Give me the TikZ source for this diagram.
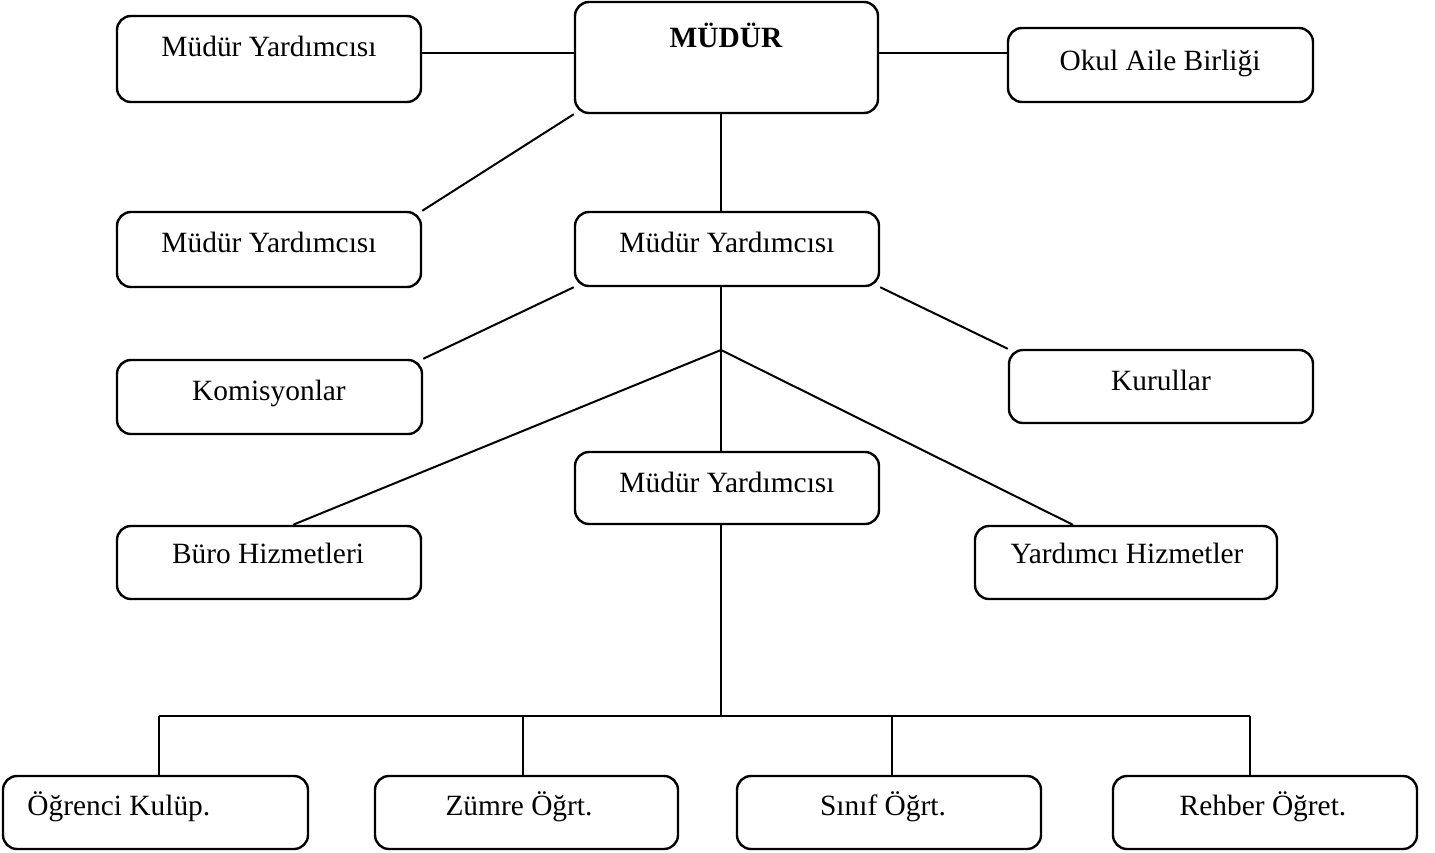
\documentclass[tikz,border=0pt]{standalone}
\usepackage{fontspec}
\setmainfont{Liberation Serif}
\begin{document}
\begin{tikzpicture}[x=0.5pt,y=-0.5pt,
  box/.style={draw, rounded corners=7pt, line width=1.2pt, inner sep=0pt, minimum width=152pt},
  lbl/.style={anchor=base, inner sep=0pt, font=\fontsize{14.7}{17}\selectfont},
  conn/.style={line width=1pt}]
\useasboundingbox (0,0) rectangle (1435,852);
% boxes
\node[box, minimum height=43pt] (my1) at (269,59) {};
\node[box, minimum width=151.5pt, minimum height=55.5pt] (mudur) at (726.5,57.5) {};
\node[box, minimum width=152.5pt, minimum height=37pt] (okul) at (1160.5,65) {};
\node[box, minimum height=37.5pt] (my2) at (269,249.5) {};
\node[box, minimum height=37pt] (my3) at (727,249) {};
\node[box, minimum width=152.5pt, minimum height=37pt] (kom) at (269.5,397) {};
\node[box, minimum height=36.5pt] (kur) at (1161,386.5) {};
\node[box, minimum height=36pt] (my4) at (727,488) {};
\node[box, minimum height=36.5pt] (buro) at (269,562.5) {};
\node[box, minimum width=151pt, minimum height=36.5pt] (yard) at (1126,562.5) {};
\node[box, minimum width=152.5pt, minimum height=36.5pt] (ogr) at (155.5,812.5) {};
\node[box, minimum width=151.5pt, minimum height=36.5pt] (zum) at (526.5,812.5) {};
\node[box, minimum width=152pt, minimum height=36.5pt] (sin) at (889,812.5) {};
\node[box, minimum width=152pt, minimum height=36.5pt] (reh) at (1265,812.5) {};
% texts
\node[lbl] (tmy1) at (269,56) {Müdür Yardımcısı};
\node[lbl, font=\fontsize{14.7}{17}\selectfont\bfseries] (tmudur) at (726,47) {MÜDÜR};
\node[lbl] (tokul) at (1160,70) {Okul Aile Birliği};
\node[lbl] (tmy2) at (269,252) {Müdür Yardımcısı};
\node[lbl] (tmy3) at (727,252) {Müdür Yardımcısı};
\node[lbl] (tkom) at (269,400) {Komisyonlar};
\node[lbl] (tkur) at (1161,390) {Kurullar};
\node[lbl] (tmy4) at (727,492) {Müdür Yardımcısı};
\node[lbl] (tburo) at (268,563) {Büro Hizmetleri};
\node[lbl] (tyard) at (1127,563) {Yardımcı Hizmetler};
\node[lbl, anchor=base west] (togr) at (27,815) {Öğrenci Kulüp.};
\node[lbl] (tzum) at (519,815) {Zümre Öğrt.};
\node[lbl] (tsin) at (883,815) {Sınıf Öğrt.};
\node[lbl] (treh) at (1263,815) {Rehber Öğret.};
% helper coordinates
\coordinate (r1) at (0,53);
\coordinate (j) at (721,350);
\coordinate (bl) at (293,0);
\coordinate (br) at (1073,0);
\coordinate (b1) at (159,716);
\coordinate (b2) at (523,716);
\coordinate (b3) at (892,716);
\coordinate (b4) at (1250,716);
% connectors
\draw[conn] (my1.east |- r1) -- (mudur.west |- r1);
\draw[conn] (mudur.east |- r1) -- (okul.west |- r1);
\draw[conn] (mudur.south west) -- (my2.north east);
\draw[conn] (mudur.south -| j) -- (my3.north -| j);
\draw[conn] (my3.south west) -- (kom.north east);
\draw[conn] (my3.south east) -- (kur.north west);
\draw[conn] (my3.south -| j) -- (j);
\draw[conn] (j) -- (my4.north -| j);
\draw[conn] (j) -- (buro.north -| bl);
\draw[conn] (j) -- (yard.north -| br);
\draw[conn] (my4.south -| j) -- (j |- b1);
\draw[conn] (b1) -- (b4);
\draw[conn] (b1) -- (ogr.north -| b1);
\draw[conn] (b2) -- (zum.north -| b2);
\draw[conn] (b3) -- (sin.north -| b3);
\draw[conn] (b4) -- (reh.north -| b4);
\end{tikzpicture}
\end{document}
